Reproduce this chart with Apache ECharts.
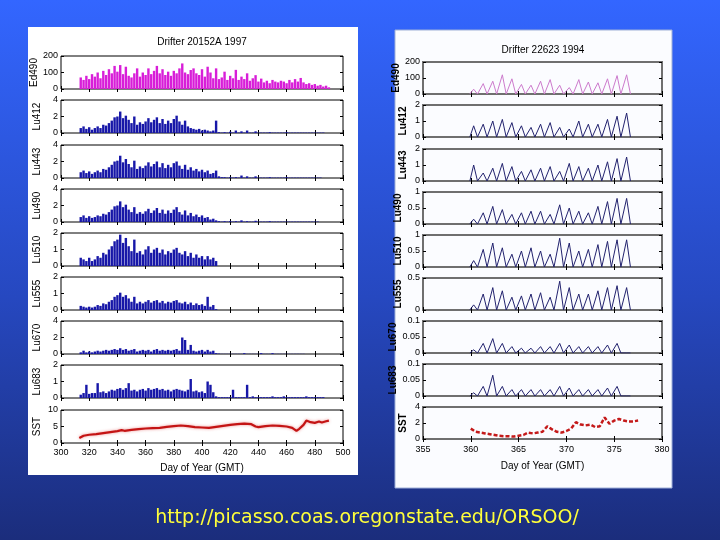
<!DOCTYPE html>
<html><head><meta charset="utf-8">
<script src="https://cdn.jsdelivr.net/npm/echarts/dist/echarts.min.js"></script>
<style>html,body{margin:0;padding:0;background:#2a4ad0;}#c{width:720px;height:540px;}</style>
</head><body><div id="c"></div>
<script>
// ---------- Left drifter (20152A, 1997): daily-peak samples every 2 days from day 314 ----------
const lDayStart = 314, lDayStep = 2;
const lEd490 = [70,55,80,60,90,75,100,65,110,85,
  120,95,140,105,145,90,135,80,70,95,
  125,75,100,85,125,90,110,140,95,120,
  85,105,80,110,95,125,155,100,90,115,
  125,95,85,120,75,135,100,65,125,60,
  70,105,55,80,65,116,55,75,60,95,
  50,65,84,45,63,40,50,35,55,45,
  40,50,45,35,55,40,60,45,67,40,
  30,35,25,30,20,25,15,20,10];
const lLu412 = [0.6,0.8,0.5,0.7,0.4,0.6,0.8,0.6,1.0,0.9,
  1.2,1.5,1.9,2.0,2.6,1.8,2.1,1.6,1.2,2.0,
  1.0,1.3,1.1,1.4,1.8,1.3,1.6,1.9,1.2,1.7,
  1.1,1.5,1.2,1.7,2.1,1.4,1.0,1.5,0.8,0.6,
  0.5,0.4,0.5,0.3,0.4,0.3,0.2,0.3,1.5,0.1,
  0.05,0.1,0.05,0.15,0.05,0.3,0.05,0.2,0.05,0.3,
  0.05,0.05,0.2,0.05,0.05,0.05,0.05,0.1,0.05,0.05,
  0.05,0.05,0.05,0.1,0.05,0.05,0.05,0.05,0.05,0.05,
  0.05,0.05,0.05,0.05,0.05,0.05,0.05,0,0];
const lLu443 = [0.7,0.9,0.6,0.8,0.5,0.7,0.9,0.7,1.1,1.0,
  1.3,1.6,2.0,2.1,2.7,1.9,2.3,1.7,1.3,2.1,
  1.1,1.4,1.2,1.5,1.9,1.4,1.7,2.0,1.3,1.8,
  1.2,1.6,1.3,1.8,2.0,1.5,1.1,1.6,1.0,1.3,
  0.9,1.1,0.8,1.0,0.7,0.9,0.5,0.6,0.9,0.2,
  0.1,0.1,0.05,0.1,0.05,0.1,0.05,0.3,0.05,0.2,
  0.05,0.05,0.2,0.05,0.05,0.05,0.05,0.1,0.05,0.05,
  0.05,0.05,0.05,0.1,0.05,0.05,0.05,0.05,0.05,0.05,
  0.05,0.05,0.05,0.05,0.05,0.05,0,0,0];
const lLu490 = [0.6,0.8,0.5,0.7,0.5,0.6,0.8,0.7,1.0,0.9,
  1.2,1.5,1.9,2.0,2.5,1.8,2.1,1.5,1.2,1.8,
  1.0,1.2,1.0,1.3,1.6,1.1,1.4,1.7,1.1,1.5,
  1.0,1.4,1.1,1.5,1.8,1.2,0.9,1.4,0.8,1.1,
  0.7,0.9,0.6,0.8,0.5,0.6,0.3,0.4,0.2,0.1,
  0.05,0.1,0.05,0.1,0.05,0.1,0.05,0.2,0.05,0.1,
  0.05,0.05,0.15,0.05,0.05,0.05,0.05,0.1,0.05,0.05,
  0.05,0.05,0.05,0.05,0.05,0.05,0.05,0.05,0.05,0.05,
  0.05,0.05,0.05,0.05,0.05,0,0,0,0];
const lLu510 = [0.5,0.4,0.3,0.5,0.3,0.4,0.6,0.5,0.8,0.7,
  1.0,1.2,1.5,1.6,1.9,1.4,1.7,1.2,0.9,1.6,
  0.8,0.9,0.7,1.0,1.2,0.8,1.0,1.1,0.8,1.0,
  0.7,0.9,0.8,1.0,1.1,0.8,0.7,0.9,0.6,0.8,
  0.5,0.7,0.5,0.6,0.4,0.6,0.4,0.5,0.3,0,
  0,0,0,0,0,0,0,0,0,0,
  0,0,0,0,0,0,0,0,0,0,
  0,0,0,0,0,0,0,0,0,0,
  0,0,0,0,0,0,0,0,0];
const lLu555 = [0.25,0.2,0.15,0.2,0.15,0.2,0.3,0.25,0.4,0.35,
  0.5,0.6,0.8,0.9,1.05,0.8,0.9,0.7,0.5,0.8,
  0.4,0.5,0.4,0.5,0.6,0.45,0.55,0.6,0.45,0.55,
  0.4,0.5,0.45,0.55,0.6,0.45,0.4,0.5,0.35,0.45,
  0.3,0.4,0.3,0.35,0.25,0.8,0.2,0.3,0.05,0,
  0,0,0,0,0,0,0,0,0,0,
  0,0,0,0,0,0,0,0,0,0,
  0,0,0,0,0,0,0,0,0,0,
  0,0,0,0,0,0,0,0,0];
const lLu670 = [0.2,0.4,0.2,0.3,0.2,0.3,0.4,0.3,0.4,0.5,
  0.4,0.5,0.6,0.5,0.7,0.5,0.6,0.4,0.5,0.6,
  0.3,0.4,0.5,0.4,0.5,0.3,0.5,0.6,0.4,0.5,
  0.4,0.5,0.4,0.5,0.6,0.4,2.0,1.7,0.5,1.1,
  0.4,0.3,0.4,0.5,0.3,0.5,0.3,0.4,0.1,0.05,
  0.02,0.02,0.02,0.02,0.02,0.02,0.02,0.02,0.1,0.02,
  0.02,0.02,0.02,0.02,0.1,0.02,0.02,0.02,0.1,0.02,
  0.02,0.02,0.02,0.02,0.02,0.02,0.02,0.02,0.02,0.02,
  0,0,0,0,0,0,0,0,0];
const lLu683 = [0.2,0.3,0.8,0.25,0.3,0.3,0.9,0.35,0.4,0.3,
  0.4,0.5,0.45,0.55,0.6,0.5,0.6,0.9,0.45,0.5,
  0.4,0.5,0.55,0.45,0.6,0.5,0.55,0.6,0.5,0.55,
  0.45,0.5,0.4,0.5,0.55,0.5,0.45,0.4,0.5,1.15,
  0.4,0.45,0.35,0.4,0.3,1.0,0.8,0.35,0.1,0.05,
  0.05,0.05,0.05,0.05,0.5,0.05,0.05,0.05,0.05,0.8,
  0.05,0.1,0.05,0.05,0.05,0.05,0.05,0.05,0.1,0.05,
  0.05,0.05,0.1,0.05,0.05,0.05,0.05,0.05,0.05,0.05,
  0.1,0.05,0.05,0.05,0.05,0.05,0.05,0,0];
const lSstDays = [313,316,320,325,330,335,340,343,345,350,355,360,365,370,375,380,385,390,395,400,405,410,415,420,425,430,435,438,440,445,450,455,460,464,467,469,472,474,477,480,483,485,488,490];
const lSstVals = [1.5,2.2,2.5,2.7,3.0,3.3,3.6,3.9,3.7,4.0,4.2,4.4,4.5,4.6,4.9,5.1,5.3,5.1,4.8,4.7,4.6,4.9,5.2,5.5,5.7,5.9,5.7,5.0,4.8,5.1,5.3,5.2,5.0,4.6,3.7,4.3,5.5,6.8,6.3,6.1,6.5,6.2,6.6,6.8];

// ---------- Right drifter (22623, 1994): one daytime hump per day ----------
const rPeakDays = [360.3,361.3,362.3,363.3,364.3,365.3,366.3,367.3,368.3,369.3,370.3,371.3,372.3,373.3,374.3,375.3,376.3];
const rEd490 = [30,65,80,120,95,60,55,80,90,55,40,90,75,70,95,115,120];
const rLu412 = [0.7,0.8,1.0,1.1,0.9,0.7,0.6,0.8,0.9,0.6,0.5,1.0,0.8,0.8,1.1,1.3,1.5];
const rLu443 = [1.0,0.5,0.8,1.1,0.9,0.6,0.7,0.8,0.9,0.6,1.1,0.9,0.8,1.0,1.2,1.4,1.5];
const rLu490 = [0.15,0.35,0.55,0.45,0.3,0.35,0.4,0.4,0.3,0.6,0.5,0.4,0.35,0.55,0.7,0.8,0.8];
const rLu510 = [0.2,0.55,0.75,0.6,0.4,0.5,0.6,0.5,0.4,0.9,0.75,0.5,0.55,0.7,0.8,0.85,0.85];
const rLu555 = [0.08,0.25,0.35,0.3,0.2,0.22,0.25,0.27,0.2,0.45,0.35,0.25,0.25,0.3,0.35,0.38,0.35];
const rLu670 = [0.01,0.03,0.045,0.03,0.02,0.015,0.015,0.02,0.02,0.03,0.025,0.02,0.02,0.02,0.025,0.03,0];
const rLu683 = [0.01,0.03,0.065,0.03,0.02,0.02,0.02,0.02,0.02,0.03,0.025,0.02,0.02,0.02,0.025,0.03,0];
const rSstDays = [360,360.5,361,361.5,362,362.5,363,363.5,364,364.5,365,365.5,366,366.5,367,367.5,368,368.5,369,369.5,370,370.5,371,371.5,372,372.5,373,373.5,374,374.5,375,375.5,376,376.5,377,377.5];
const rSstVals = [1.3,0.9,0.8,0.7,0.6,0.5,0.4,0.35,0.35,0.3,0.4,0.5,0.8,0.7,0.8,0.9,1.6,1.2,0.9,0.8,1.0,1.3,2.1,1.8,1.7,1.8,1.5,1.6,2.7,1.9,2.3,2.5,2.3,2.2,2.2,2.3];

// ---------- axis labels / ranges ----------
const panelNames = ['Ed490','Lu412','Lu443','Lu490','Lu510','Lu555','Lu670','Lu683','SST'];
const leftMax = [200,4,4,4,2,2,4,2,10];
const leftInt = [100,2,2,2,1,1,2,1,5];
const rightMax = [200,2,2,1,1,0.5,0.1,0.1,4];
const rightInt = [100,1,1,0.5,0.5,0.5,0.05,0.05,2];
const leftTitle = 'Drifter 20152A 1997';
const rightTitle = 'Drifter 22623 1994';
const xName = 'Day of Year (GMT)';
const urlText = 'http://picasso.coas.oregonstate.edu/ORSOO/';

// ---------- layout (styles) ----------
const leftTops = [56,100,145,189,233,277,321,365,410];
const rightTops = [62,105,149,192,235,278,321,364,407];
const FN = "'Liberation Sans Narrow','Liberation Sans',Arial,sans-serif";
const FR = "'Liberation Sans',Arial,sans-serif";

const lBars = [lEd490,lLu412,lLu443,lLu490,lLu510,lLu555,lLu670,lLu683];
const rLines = [rEd490,rLu412,rLu443,rLu490,rLu510,rLu555,rLu670,rLu683];
const halfHump = 0.4;

const grid = [], xAxis = [], yAxis = [], series = [];

function addPanel(side, i) {
  const isL = side === 'L';
  const g = grid.length;
  grid.push({
    left: isL ? 61 : 423, width: isL ? 282 : 239,
    top: isL ? leftTops[i] : rightTops[i], height: isL ? 33 : 32,
    show: true, borderColor: isL ? '#000' : '#6f6f6f', borderWidth: isL ? 1 : 2,
    backgroundColor: 'transparent'
  });
  const last = i === 8;
  const xb = {
    gridIndex: g, type: 'value', position: 'bottom',
    min: isL ? 300 : 355, max: isL ? 500 : 380, interval: isL ? 20 : 5,
    axisLine: {show: false}, splitLine: {show: false},
    axisTick: {show: true, inside: true, length: 3, lineStyle: {color: '#000'}},
    axisLabel: {show: last, fontSize: 9, color: '#000', margin: isL ? 5 : 6, fontFamily: isL ? FN : FR},
    name: last ? xName : '', nameLocation: 'middle', nameGap: isL ? 20 : 22,
    nameTextStyle: {fontSize: 10, color: '#000', fontFamily: isL ? FN : FR}
  };
  xAxis.push(xb);
  const xTop = Object.assign({}, xb, {position: 'top', axisLabel: {show: false}, name: ''});
  xAxis.push(xTop);
  const yl = {
    gridIndex: g, type: 'value', position: 'left',
    min: 0, max: isL ? leftMax[i] : rightMax[i], interval: isL ? leftInt[i] : rightInt[i],
    axisLine: {show: false}, splitLine: {show: false},
    axisTick: {show: true, inside: true, length: 3, lineStyle: {color: '#000'}},
    axisLabel: {show: true, fontSize: 9, color: '#000', margin: 3, fontFamily: isL ? FN : FR},
    name: panelNames[i], nameLocation: 'middle', nameGap: isL ? 19 : 15,
    nameTextStyle: {fontSize: 10, color: '#000', fontFamily: isL ? FN : FR, fontWeight: isL ? 'normal' : 'bold'}
  };
  yAxis.push(yl);
  yAxis.push(Object.assign({}, yl, {position: 'right', axisLabel: {show: false}, name: ''}));
  return {xi: xAxis.length - 2, yi: yAxis.length - 2};
}

for (let i = 0; i < 9; i++) {
  const a = addPanel('L', i);
  if (i < 8) {
    const vals = lBars[i];
    series.push({
      type: 'bar', xAxisIndex: a.xi, yAxisIndex: a.yi, barWidth: 2.4,
      itemStyle: {color: i === 0 ? '#d81ed8' : '#1717a8'},
      data: vals.map((v, k) => [lDayStart + k * lDayStep, v]),
      animation: false
    });
  } else {
    series.push({
      type: 'line', xAxisIndex: a.xi, yAxisIndex: a.yi, showSymbol: false,
      lineStyle: {color: '#c41414', width: 2.2, shadowColor: 'rgba(220,40,40,0.5)', shadowBlur: 3},
      data: lSstDays.map((d, k) => [d, lSstVals[k]]), animation: false
    });
  }
}
for (let i = 0; i < 9; i++) {
  const a = addPanel('R', i);
  if (i < 8) {
    const vals = rLines[i];
    const data = [];
    rPeakDays.forEach((d, k) => { data.push([d - halfHump, 0], [d, vals[k]], [d + halfHump, 0]); });
    series.push({
      type: 'line', xAxisIndex: a.xi, yAxisIndex: a.yi, showSymbol: false,
      lineStyle: {color: i === 0 ? '#cc7acc' : '#22226e', width: 1},
      data: data, animation: false
    });
  } else {
    series.push({
      type: 'line', xAxisIndex: a.xi, yAxisIndex: a.yi, showSymbol: false,
      lineStyle: {color: '#c41a1a', width: 2.5, type: [4, 2]},
      data: rSstDays.map((d, k) => [d, rSstVals[k]]), animation: false
    });
  }
}

const chart = echarts.init(document.getElementById('c'), null, {renderer: 'canvas'});
chart.setOption({
  animation: false,
  backgroundColor: {type: 'linear', x: 0, y: 0, x2: 0, y2: 1,
    colorStops: [{offset: 0, color: '#3366ff'}, {offset: 0.55, color: '#2648c0'}, {offset: 1, color: '#1b2d7c'}]},
  graphic: [
    {type: 'rect', z: -10, silent: true, shape: {x: 28, y: 27, width: 330, height: 448}, style: {fill: '#ffffff'}},
    {type: 'rect', z: -10, silent: true, shape: {x: 395, y: 30, width: 277, height: 458}, style: {fill: '#fbfcff', stroke: '#9fb0d8', lineWidth: 1}},
    {type: 'text', z: 10, x: 202, y: 42, style: {text: leftTitle, font: "10px " + FN, fill: '#000', textAlign: 'center', textVerticalAlign: 'middle'}},
    {type: 'text', z: 10, x: 543, y: 50, style: {text: rightTitle, font: "10px " + FR, fill: '#000', textAlign: 'center', textVerticalAlign: 'middle'}},
    {type: 'text', z: 10, x: 367, y: 518, style: {text: urlText, font: "19px 'DejaVu Sans', sans-serif", fill: '#ffff3a', textAlign: 'center', textVerticalAlign: 'middle'}}
  ],
  grid: grid, xAxis: xAxis, yAxis: yAxis, series: series
});
</script></body></html>
